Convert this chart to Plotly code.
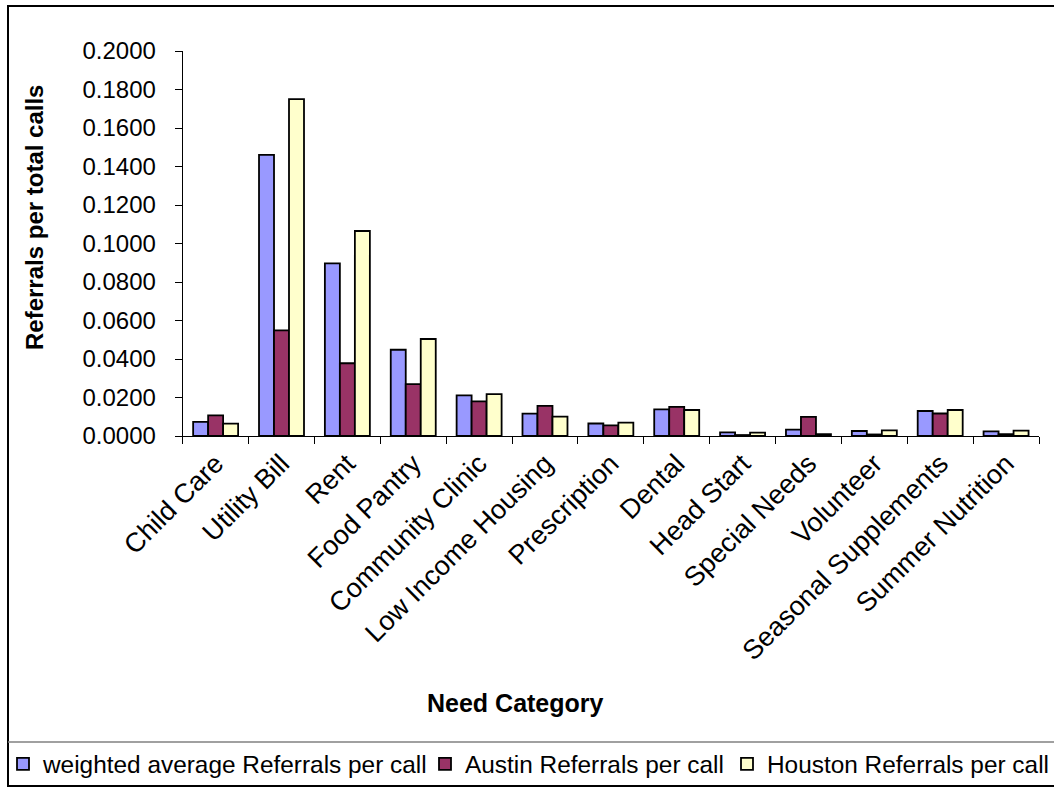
import plotly.graph_objects as go

W, H = 1054, 789

categories = ["Child Care", "Utility Bill", "Rent", "Food Pantry", "Community Clinic",
              "Low Income Housing", "Prescription", "Dental", "Head Start", "Special Needs",
              "Volunteer", "Seasonal Supplements", "Summer Nutrition"]

weighted = [0.0073, 0.1460, 0.0897, 0.0448, 0.0211, 0.0116, 0.0065, 0.0138, 0.0019, 0.0033, 0.0026, 0.0130, 0.0024]
austin = [0.0107, 0.0549, 0.0378, 0.0270, 0.0180, 0.0156, 0.0055, 0.0151, 0.0005, 0.0099, 0.0008, 0.0117, 0.0010]
houston = [0.0064, 0.1750, 0.1065, 0.0504, 0.0218, 0.0101, 0.0069, 0.0135, 0.0018, 0.0010, 0.0029, 0.0135, 0.0028]

series_names = ["weighted average Referrals per call", "Austin Referrals per call", "Houston Referrals per call"]
series_colors = ["#9999FF", "#993366", "#FFFFCC"]
series_values = [weighted, austin, houston]
legend_widths = [377, 257, 284]

ytick_vals = [0.0, 0.02, 0.04, 0.06, 0.08, 0.10, 0.12, 0.14, 0.16, 0.18, 0.20]

FONT = "Liberation Sans, Arial, sans-serif"

fig = go.Figure()
for name, color, vals, lw in zip(series_names, series_colors, series_values, legend_widths):
    fig.add_trace(go.Bar(
        x=categories, y=vals, name=name, legendwidth=lw,
        marker=dict(color=color, line=dict(color="black", width=1.8)),
    ))

def px_x(p):
    return p / W

def px_y(p):
    return 1 - p / H

fig.update_layout(
    width=W, height=H,
    margin=dict(l=0, r=0, t=0, b=0, autoexpand=False),
    paper_bgcolor="white", plot_bgcolor="white",
    font=dict(family=FONT, size=24, color="black"),
    barmode="group", bargap=0.317, bargroupgap=0,
    showlegend=True,
    legend=dict(
        orientation="h", x=px_x(3), xanchor="left", y=px_y(764), yanchor="middle",
        font=dict(family=FONT, size=24.4, color="black"),
        itemwidth=30, traceorder="normal", bgcolor="rgba(0,0,0,0)",
    ),
    xaxis=dict(
        domain=[px_x(182.7), px_x(1039)],
        type="category", automargin=False,
        showline=True, linecolor="black", linewidth=1,
        ticks="outside", tickson="boundaries", ticklen=7, tickcolor="black",
        tickangle=-45, tickfont=dict(family=FONT, size=27),
        showgrid=False, zeroline=False,
    ),
    yaxis=dict(
        domain=[px_y(436), px_y(51)],
        range=[0, 0.2], automargin=False,
        tickvals=ytick_vals, tickformat=".4f",
        showline=True, linecolor="black", linewidth=1,
        ticks="outside", ticklen=7, tickcolor="black",
        ticklabelstandoff=14,
        tickfont=dict(family=FONT, size=24),
        showgrid=False, zeroline=False,
    ),
    annotations=[
        dict(text="<b>Need Category</b>", xref="paper", yref="paper",
             x=px_x(515), y=px_y(703), xanchor="center", yanchor="middle",
             showarrow=False, font=dict(family=FONT, size=25, color="black")),
        dict(text="<b>Referrals per total calls</b>", xref="paper", yref="paper",
             x=px_x(34), y=px_y(218), xanchor="center", yanchor="middle", textangle=-90,
             showarrow=False, font=dict(family=FONT, size=24, color="black")),
    ],
    shapes=[
        dict(type="rect", xref="paper", yref="paper",
             x0=px_x(8), x1=px_x(1062), y0=px_y(786), y1=px_y(6),
             line=dict(color="black", width=2), fillcolor="rgba(0,0,0,0)", layer="above"),
        dict(type="line", xref="paper", yref="paper",
             x0=px_x(8), x1=px_x(1062), y0=px_y(742), y1=px_y(742),
             line=dict(color="#808080", width=1.5)),
    ],
)

fig.write_html("out.html")
